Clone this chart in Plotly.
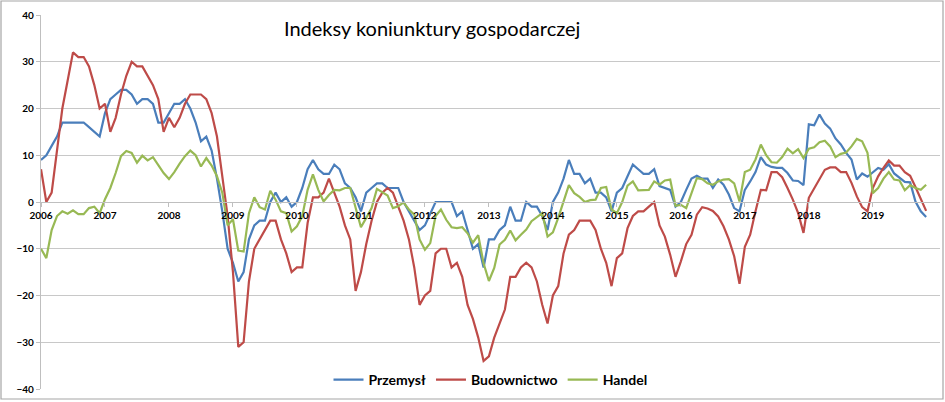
import pandas as pd
import plotly.graph_objects as go

# monthly readings, Jan 2006 .. Nov 2019
MONTHS = [d.strftime("%Y-%m") for d in pd.date_range("2006-01-01", "2019-11-01", freq="MS")]
YEAR_TICKS = [f"{y}-01" for y in range(2006, 2020)]
YEAR_LABELS = [str(y) for y in range(2006, 2020)]

przemysl = [
    9, 10, 12, 14, 17, 17, 17, 17, 17, 16, 15, 14,
    19, 22, 23, 24, 24, 23, 21, 22, 22, 21, 17, 17,
    19, 21, 21, 22, 20, 17, 13, 14, 11, 5, -2, -10,
    -13, -17, -15, -8, -5, -4, -4, 0, 2, 0, 1, -1,
    0, 3, 7, 9, 7, 6, 6, 8, 7, 4, 3, 1,
    -2, 2, 3, 4, 4, 3, 3, 3, 0, -2, -4, -6,
    -5, -2.5, 0, 0, 0, 0, -3, -2, -6, -10, -9, -14,
    -8, -8, -6, -5, -1, -4, -4, 0, -1, -1, -3, -6,
    0, 2, 5, 9, 6, 6, 4, 5, 2, 2, 1, -2,
    2, 3, 5.5, 8, 7, 6, 6, 7, 3.4, 3, 2.6, -1,
    0, 2.6, 5, 5.6, 5, 5, 3, 4.8, 3.7, 1.6, -1.3, -2,
    2.6, 4.4, 6.4, 9.6, 8, 7.5, 7.3, 7.3, 6.2, 4.6, 4.5, 3.6,
    16.6, 16.4, 18.7, 16.8, 15.7, 13.6, 12.3, 10.5, 9.1, 4.8, 6.1, 5.4,
    6.4, 7.3, 6.9, 8.1, 6.1, 5.1, 4.3, 4.2, 0.1, -2, -3.2,
]
budownictwo = [
    7, 0, 2, 11, 20, 26, 32, 31, 31, 29, 25, 20,
    21, 15, 18, 23, 27, 30, 29, 29, 27, 25, 22, 15,
    18, 16, 18, 21, 23, 23, 23, 22, 19, 14, 6, -3,
    -15, -31, -30, -17, -10, -8, -6, -4, -4, -8, -11, -15,
    -14, -14, -4.5, 1, 1, 2, 5, 2, -1, -5, -8, -19,
    -15, -9, -4, 0, 2, 3, 2, -1, -4, -8, -14, -22,
    -20, -19, -11, -10, -10, -14, -13, -16, -22, -25, -29, -34,
    -33, -29, -26, -23, -16, -16, -14, -13, -14, -17, -22, -26,
    -20, -18, -11, -7, -6, -4, -4, -4, -6, -10, -13, -18,
    -12, -11, -5.6, -3, -2, -2, -1, 0, -5, -7.4, -11.3, -16,
    -12.7, -9, -7, -2.7, -1.1, -1.4, -1.9, -3.1, -5.2, -8, -11.6, -17.5,
    -9.6, -7, -2, 2.6, 2.5, 6.4, 6.4, 5.3, 3, 0.5, -2.4, -6.6,
    0.9, 3, 4.8, 6.9, 7.4, 7.4, 6.4, 6.4, 4.1, 1.2, -1.1, -2,
    3, 5.5, 7.3, 8.9, 7.8, 7.8, 6.4, 5.6, 3.2, 0.5, -1.9,
]
handel = [
    -10, -12, -6, -3, -2, -2.5, -1.8, -2.6, -2.6, -1.3, -1, -2.4,
    0.6, 3, 6.2, 9.8, 10.9, 10.5, 8.4, 9.9, 8.9, 9.6, 7.9, 6.2,
    4.9, 6.4, 8.2, 9.8, 11, 10, 7.6, 9.4, 7.8, 5.5, 2, -5,
    -3.7, -10.4, -10.6, -2.4, 1, -1.1, -1.6, 2.4, 0.5, -2, -2.4, -6.3,
    -5.2, -3, 2.6, 5.9, 2.6, 0.1, 1.5, 2.6, 2.5, 3, 3, -1.3,
    -5.4, -3.4, -1.3, 2.8, 2.1, 1.4, -1.3, -0.9, -0.1, -1.6, -2.7, -8,
    -10.2, -8.8, -3, -1.6, -3.8, -5.4, -5.6, -5.4, -6.7, -8.7, -7.1, -13.1,
    -16.9, -14.1, -9.1, -8.1, -6.1, -8.2, -7, -5.9, -4.1, -3.2, -2.4, -7.4,
    -6.5, -3.4, 0.1, 3.6, 1.9, 1.1, 0, 0.4, 0.5, 3, 3.2, -1.6,
    -2.4, 0, 3.5, 4.4, 2.5, 2.5, 2.6, 4.4, 3.7, 4.6, 4.8, -0.8,
    -0.6, -1.3, 1.9, 5.1, 4.9, 4, 3.7, 4.4, 4.8, 4.9, 4, 0.1,
    6.4, 6.9, 9.1, 12.3, 10, 8.5, 8.4, 9.6, 11.4, 10.4, 11.3, 9.4,
    11.4, 11.7, 12.8, 13.1, 11.9, 9.6, 10.3, 10.6, 11.9, 13.5, 13, 10.5,
    1.9, 3, 5, 6.4, 4.8, 4.6, 2.5, 3.6, 3, 2.6, 3.7,
]

SERIES = [("Przemysł", przemysl, "#4a7ebb"),
          ("Budownictwo", budownictwo, "#be4b48"),
          ("Handel", handel, "#98b954")]

W, H = 945, 402
ML, MR, MT, MB = 41, 5, 15, 13
PW, PH = W - ML - MR, H - MT - MB


def px_x(p):
    return (p - ML) / PW


def px_y(p):
    return (H - MB - p) / PH


fig = go.Figure()
for name, vals, col in SERIES:
    fig.add_trace(go.Scatter(x=MONTHS, y=vals, name=name, mode="lines",
                             line=dict(color=col, width=2.2)))

fig.update_layout(
    width=W, height=H, margin=dict(l=ML, r=MR, t=MT, b=MB),
    paper_bgcolor="white", plot_bgcolor="white", showlegend=True,
    font=dict(family="Lato, Open Sans, sans-serif", color="#000000"),
    xaxis=dict(type="category", range=[0, 168.6], tickmode="array",
               tickvals=YEAR_TICKS, ticktext=YEAR_LABELS,
               tickfont=dict(size=10, weight="bold"),
               anchor="free", position=0.5, showgrid=False,
               showline=True, linecolor="#bfbfbf", linewidth=1.3,
               ticks="outside", ticklen=4, tickcolor="#bfbfbf"),
    yaxis=dict(range=[-40, 40], tickvals=list(range(-40, 41, 10)),
               tickfont=dict(size=10, weight="bold"),
               showgrid=True, gridcolor="#c8c8c8", gridwidth=1.3, zeroline=False,
               showline=True, linecolor="#bfbfbf", linewidth=1.3,
               ticks="outside", ticklen=4, tickcolor="#bfbfbf"),
    legend=dict(orientation="h", x=0.5, xanchor="center", y=px_y(380), yanchor="middle",
                bgcolor="rgba(0,0,0,0)", font=dict(size=14, weight="bold")),
    annotations=[dict(text="Indeksy koniunktury gospodarczej", showarrow=False,
                      xref="paper", yref="paper", x=px_x(432), y=px_y(28),
                      xanchor="center", yanchor="middle",
                      font=dict(size=20, family="Lato, Open Sans, sans-serif"))],
    shapes=[dict(type="rect", xref="paper", yref="paper",
                 x0=px_x(1), x1=px_x(943), y0=px_y(399), y1=px_y(1),
                 line=dict(color="#a6a6a6", width=1.2), layer="below")],
)

# the page's default body margin would shift the chart by 8px
fig.write_html("out.html", config={"displayModeBar": False},
               post_script="document.body.style.margin='0';")
